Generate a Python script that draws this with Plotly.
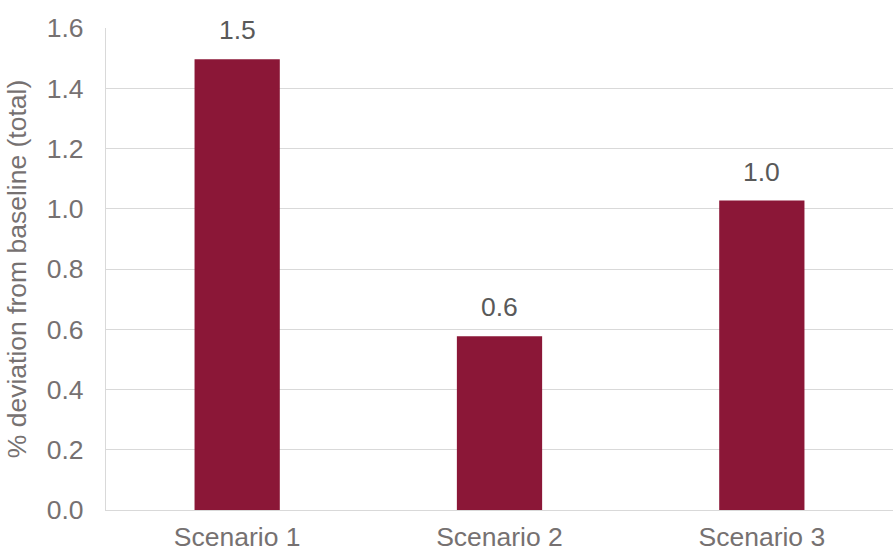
import plotly.graph_objects as go

# Scenario results: % deviation from baseline (total)
scenarios = ["Scenario 1", "Scenario 2", "Scenario 3"]
deviation = [1.496, 0.577, 1.027]
y_ticks = [0.0, 0.2, 0.4, 0.6, 0.8, 1.0, 1.2, 1.4, 1.6]

BAR_COLOR = "#8B1737"
TEXT_COLOR = "#767171"
GRID_COLOR = "#D9D9D9"
FONT = "Liberation Sans, Arial, sans-serif"
SIZE = 26.5

fig = go.Figure(
    go.Bar(
        x=scenarios,
        y=deviation,
        marker=dict(color=BAR_COLOR, line=dict(width=0)),
        hoverinfo="skip",
    )
)

# value labels above each bar, rounded to one decimal
for s, v in zip(scenarios, deviation):
    fig.add_annotation(
        x=s, y=v, text=f"{v:.1f}", showarrow=False,
        xanchor="center", yanchor="bottom", yshift=12,
        font=dict(family=FONT, size=SIZE, color="#595959"),
    )

fig.update_layout(
    width=893, height=551,
    margin=dict(l=106, r=0, t=28, b=41),
    paper_bgcolor="white", plot_bgcolor="white",
    bargap=0.675,
    showlegend=False,
    font=dict(family=FONT, size=SIZE, color=TEXT_COLOR),
)

fig.update_yaxes(
    range=[0, 1.6],
    tickvals=y_ticks,
    ticktext=[f"{t:.1f}" for t in y_ticks],
    showgrid=True, gridcolor=GRID_COLOR, gridwidth=1.3,
    showline=True, linecolor=GRID_COLOR, linewidth=1.3,
    zeroline=False,
    ticks="", ticklabelstandoff=16,
    tickfont=dict(family=FONT, size=SIZE, color=TEXT_COLOR),
    title=dict(text="% deviation from baseline (total)",
               font=dict(family=FONT, size=SIZE, color=TEXT_COLOR),
               standoff=12),
    automargin=False,
)

fig.update_xaxes(
    showgrid=False,
    showline=True, linecolor=GRID_COLOR, linewidth=1.3,
    ticks="", ticklabelstandoff=3,
    tickfont=dict(family=FONT, size=SIZE, color=TEXT_COLOR),
    automargin=False,
)

fig.write_html("out.html")
